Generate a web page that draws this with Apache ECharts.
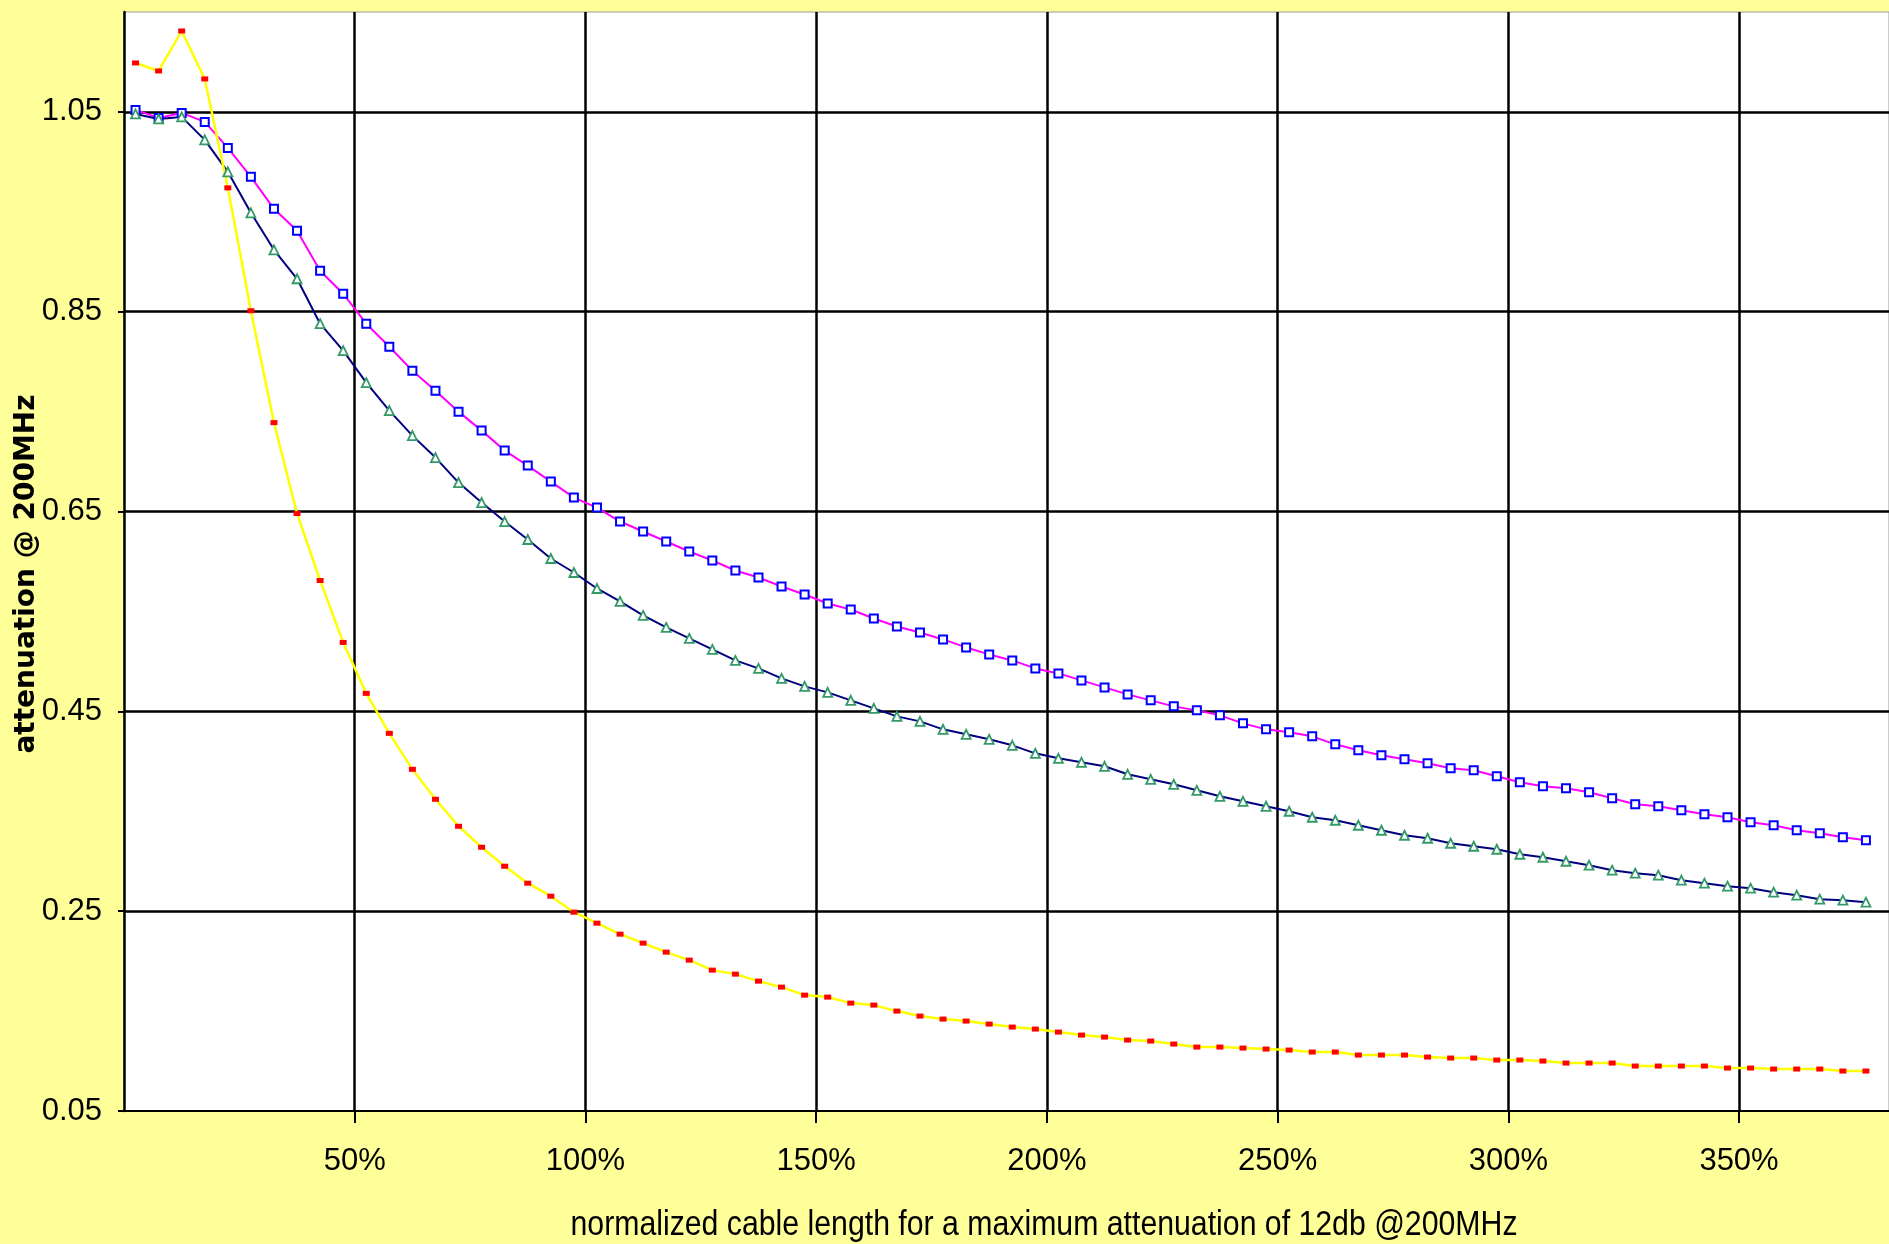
<!DOCTYPE html>
<html>
<head>
<meta charset="utf-8">
<script src="https://cdn.jsdelivr.net/npm/echarts@6/dist/echarts.min.js"></script>
<style>
html,body{margin:0;padding:0;background:#FFFF99;}
#c{width:1889px;height:1244px;}
</style>
</head>
<body>
<div id="c"></div>
<script>
// normalized cable length (%), one point per 5% step
const cableLength = [2.5, 7.5, 12.5, 17.5, 22.5, 27.5, 32.5, 37.5, 42.5, 47.5,
  52.5, 57.5, 62.5, 67.5, 72.5, 77.5, 82.5, 87.5, 92.5, 97.5,
  102.5, 107.5, 112.5, 117.5, 122.5, 127.5, 132.5, 137.5, 142.5, 147.5,
  152.5, 157.5, 162.5, 167.5, 172.5, 177.5, 182.5, 187.5, 192.5, 197.5,
  202.5, 207.5, 212.5, 217.5, 222.5, 227.5, 232.5, 237.5, 242.5, 247.5,
  252.5, 257.5, 262.5, 267.5, 272.5, 277.5, 282.5, 287.5, 292.5, 297.5,
  302.5, 307.5, 312.5, 317.5, 322.5, 327.5, 332.5, 337.5, 342.5, 347.5,
  352.5, 357.5, 362.5, 367.5, 372.5, 377.5];

// magenta line, blue square markers
const attenMagenta = [1.052, 1.044, 1.049, 1.040, 1.014, 0.985, 0.953, 0.931, 0.891, 0.868,
  0.838, 0.815, 0.791, 0.771, 0.750, 0.731, 0.711, 0.696, 0.680, 0.664,
  0.654, 0.640, 0.630, 0.620, 0.610, 0.601, 0.591, 0.584, 0.575, 0.567,
  0.558, 0.552, 0.543, 0.535, 0.529, 0.522, 0.514, 0.507, 0.501, 0.493,
  0.488, 0.481, 0.474, 0.467, 0.461, 0.455, 0.451, 0.446, 0.438, 0.432,
  0.429, 0.425, 0.417, 0.411, 0.406, 0.402, 0.398, 0.393, 0.391, 0.385,
  0.379, 0.375, 0.373, 0.369, 0.363, 0.357, 0.355, 0.351, 0.347, 0.344,
  0.339, 0.336, 0.331, 0.328, 0.324, 0.321];

// navy line, green triangle markers
const attenNavy = [1.048, 1.043, 1.045, 1.022, 0.990, 0.949, 0.912, 0.883, 0.838, 0.811,
  0.779, 0.751, 0.726, 0.704, 0.679, 0.659, 0.640, 0.622, 0.603, 0.589,
  0.573, 0.560, 0.546, 0.534, 0.523, 0.512, 0.501, 0.493, 0.483, 0.475,
  0.469, 0.461, 0.453, 0.445, 0.440, 0.432, 0.427, 0.422, 0.416, 0.408,
  0.403, 0.399, 0.395, 0.387, 0.382, 0.377, 0.371, 0.365, 0.360, 0.355,
  0.350, 0.344, 0.341, 0.336, 0.331, 0.326, 0.323, 0.318, 0.315, 0.312,
  0.307, 0.304, 0.300, 0.296, 0.291, 0.288, 0.286, 0.281, 0.278, 0.275,
  0.273, 0.269, 0.266, 0.262, 0.261, 0.259];

// yellow line, red markers
const attenYellow = [1.099, 1.091, 1.131, 1.083, 0.974, 0.851, 0.739, 0.648, 0.581, 0.519,
  0.468, 0.428, 0.392, 0.362, 0.335, 0.314, 0.295, 0.278, 0.265, 0.249,
  0.238, 0.227, 0.218, 0.209, 0.201, 0.191, 0.187, 0.180, 0.174, 0.166,
  0.164, 0.158, 0.156, 0.150, 0.145, 0.142, 0.140, 0.137, 0.134, 0.132,
  0.129, 0.126, 0.124, 0.121, 0.120, 0.117, 0.114, 0.114, 0.113, 0.112,
  0.111, 0.109, 0.109, 0.106, 0.106, 0.106, 0.104, 0.103, 0.103, 0.101,
  0.101, 0.100, 0.098, 0.098, 0.098, 0.095, 0.095, 0.095, 0.095, 0.093,
  0.093, 0.092, 0.092, 0.092, 0.090, 0.090];

const xTitle = 'normalized cable length for a maximum attenuation of 12db @200MHz';
const yTitle = 'attenuation @ 200MHz';

const SANS = '"Liberation Sans", Arial, sans-serif';
const xTitleFont = '35px ' + SANS;

// horizontal squeeze so the x title has the narrow look of the original
const ctx = document.createElement('canvas').getContext('2d');
ctx.font = xTitleFont;
const xTitleScale = Math.min(1, 947 / ctx.measureText(xTitle).width);

function pairs(ys) { return cableLength.map((x, i) => [x, ys[i]]); }

const chart = echarts.init(document.getElementById('c'), null, {renderer: 'canvas'});
chart.setOption({
  animation: false,
  backgroundColor: '#FFFF99',
  grid: {left: 124, right: -3, top: 12, bottom: 133, show: true,
    backgroundColor: '#ffffff', borderColor: '#9a9a9a', borderWidth: 1},
  xAxis: {
    type: 'value', min: 0, max: 382.5, interval: 50,
    axisLine: {show: true, lineStyle: {color: '#000', width: 2}},
    axisTick: {show: true, length: 12, lineStyle: {color: '#000', width: 2}},
    axisLabel: {margin: 35, fontSize: 31, fontFamily: SANS, color: '#000',
      showMinLabel: false, showMaxLabel: false, formatter: v => v + '%'},
    splitLine: {show: true, showMinLine: false, showMaxLine: false, lineStyle: {color: '#000', width: 2.5}}
  },
  yAxis: {
    type: 'value', min: 0.05, max: 1.15, interval: 0.2,
    axisLine: {show: true, lineStyle: {color: '#000', width: 2.5}},
    axisTick: {show: true, length: 6, lineStyle: {color: '#000', width: 2}},
    axisLabel: {margin: 22, fontSize: 31, fontFamily: SANS, color: '#000',
      showMaxLabel: false, formatter: v => v.toFixed(2)},
    splitLine: {show: true, showMinLine: false, showMaxLine: false, lineStyle: {color: '#000', width: 2.5}}
  },
  graphic: [
    {type: 'text', x: 1044, y: 1225, z: 10, scaleX: xTitleScale,
      style: {text: xTitle, font: xTitleFont, fill: '#000', align: 'center', verticalAlign: 'middle'}},
    {type: 'text', x: 27, y: 574, rotation: Math.PI / 2, z: 10,
      style: {text: yTitle, font: 'bold 28px "DejaVu Sans", sans-serif', fill: '#000', align: 'center', verticalAlign: 'middle'}}
  ],
  series: [
    {type: 'line', name: 'magenta', data: pairs(attenMagenta), symbol: 'rect', symbolSize: 8,
      showAllSymbol: true, lineStyle: {color: '#FF00FF', width: 2},
      itemStyle: {color: '#ffffff', borderColor: '#0000FF', borderWidth: 2}, emphasis: {disabled: true}},
    {type: 'line', name: 'navy', data: pairs(attenNavy), symbol: 'triangle', symbolSize: 9,
      showAllSymbol: true, lineStyle: {color: '#000080', width: 2},
      itemStyle: {color: '#ffffff', borderColor: '#339966', borderWidth: 1.8}, emphasis: {disabled: true}},
    {type: 'line', name: 'yellow', data: pairs(attenYellow), symbol: 'rect', symbolSize: [7, 5],
      showAllSymbol: true, lineStyle: {color: '#FFFF00', width: 2.5},
      itemStyle: {color: '#FF0000', borderWidth: 0}, emphasis: {disabled: true}}
  ]
});
</script>
</body>
</html>
